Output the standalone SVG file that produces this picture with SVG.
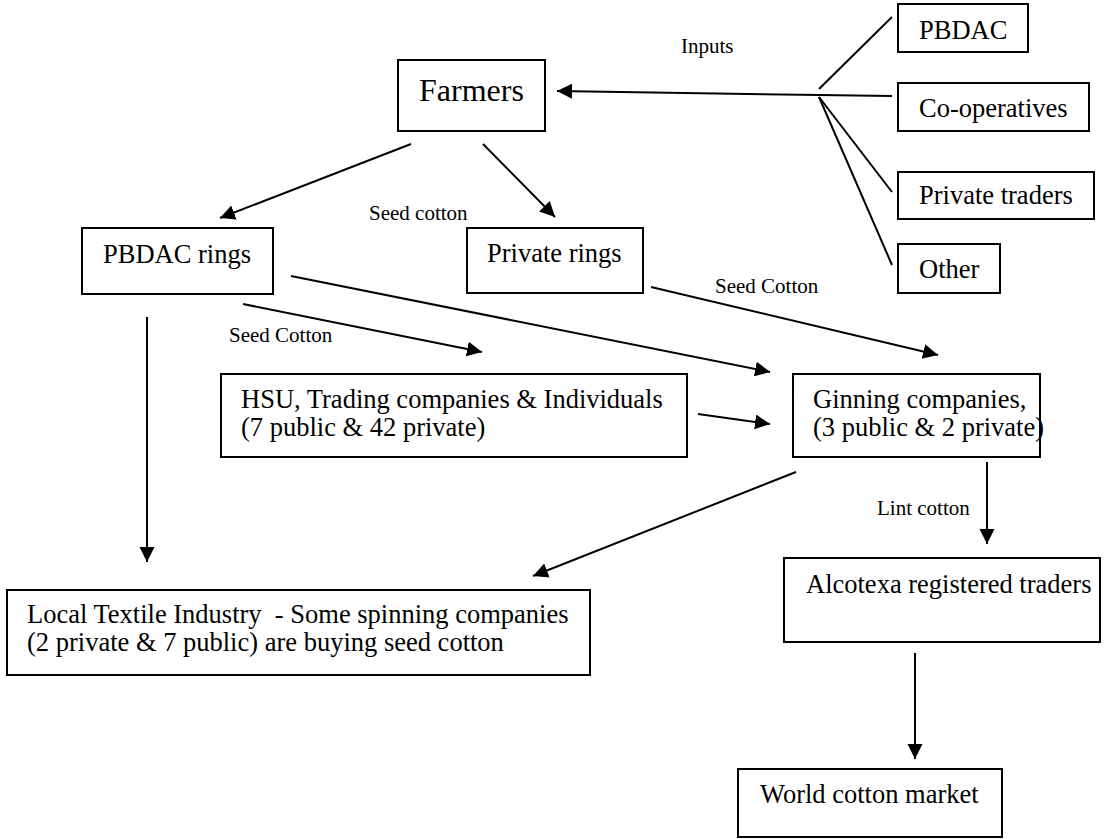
<svg xmlns="http://www.w3.org/2000/svg" width="1112" height="839" viewBox="0 0 1112 839">
<style>
.box{fill:#fff;stroke:#000;stroke-width:2}
.t{font-family:"Liberation Serif","Times New Roman",serif;font-size:26.5px;fill:#000;white-space:pre}
.big{font-size:32px}
.lbl{font-family:"Liberation Serif","Times New Roman",serif;font-size:21px;fill:#000}
.c{stroke:#000;stroke-width:2;fill:none}
</style>
<defs>
<marker id="ah" markerUnits="userSpaceOnUse" markerWidth="16" markerHeight="16" refX="15" refY="7.5" orient="auto">
<path d="M0,0 L15,7.5 L0,15 z" fill="#000"/>
</marker>
</defs>
<rect width="1112" height="839" fill="#fff"/>
<g id="connectors">
<line class="c" x1="819" y1="95" x2="557" y2="91" marker-end="url(#ah)"/>
<line class="c" x1="819" y1="89" x2="892" y2="17"/>
<line class="c" x1="819" y1="95" x2="892" y2="96"/>
<line class="c" x1="819" y1="97" x2="892" y2="192"/>
<line class="c" x1="819" y1="97" x2="892" y2="265"/>
<line class="c" x1="411" y1="144" x2="220" y2="218" marker-end="url(#ah)"/>
<line class="c" x1="483" y1="144" x2="555" y2="217" marker-end="url(#ah)"/>
<line class="c" x1="291" y1="276" x2="770" y2="372" marker-end="url(#ah)"/>
<line class="c" x1="243" y1="304" x2="482" y2="352" marker-end="url(#ah)"/>
<line class="c" x1="651" y1="287" x2="938" y2="355" marker-end="url(#ah)"/>
<line class="c" x1="698" y1="414" x2="770" y2="424" marker-end="url(#ah)"/>
<line class="c" x1="147" y1="317" x2="147" y2="562" marker-end="url(#ah)"/>
<line class="c" x1="796" y1="472" x2="533" y2="576" marker-end="url(#ah)"/>
<line class="c" x1="987" y1="462" x2="987" y2="544" marker-end="url(#ah)"/>
<line class="c" x1="915" y1="653" x2="915" y2="759" marker-end="url(#ah)"/>
<text class="lbl" x="681" y="53">Inputs</text>
<text class="lbl" x="369" y="220">Seed cotton</text>
<text class="lbl" x="229" y="342">Seed Cotton</text>
<text class="lbl" x="715" y="293">Seed Cotton</text>
<text class="lbl" x="877" y="515">Lint cotton</text>
</g>
<g id="farmers"><rect class="box" x="398" y="60" width="147" height="71"/><text class="t big" x="419" y="101">Farmers</text></g>
<g id="pbdac"><rect class="box" x="898" y="4" width="130" height="48"/><text class="t" x="919" y="39">PBDAC</text></g>
<g id="coops"><rect class="box" x="898" y="83" width="191" height="48"/><text class="t" x="919" y="117">Co-operatives</text></g>
<g id="private-traders"><rect class="box" x="898" y="172" width="196" height="47"/><text class="t" x="919" y="204">Private traders</text></g>
<g id="other"><rect class="box" x="898" y="244" width="102" height="49"/><text class="t" x="919" y="278">Other</text></g>
<g id="pbdac-rings"><rect class="box" x="82" y="228" width="191" height="66"/><text class="t" x="103" y="263">PBDAC rings</text></g>
<g id="private-rings"><rect class="box" x="467" y="228" width="176" height="65"/><text class="t" x="487" y="262">Private rings</text></g>
<g id="hsu"><rect class="box" x="221" y="374" width="466" height="83"/><text class="t" x="241" y="408">HSU, Trading companies &amp; Individuals</text><text class="t" x="241" y="436">(7 public &amp; 42 private)</text></g>
<g id="ginning"><rect class="box" x="793" y="374" width="247" height="83"/><text class="t" x="813" y="408">Ginning companies,</text><text class="t" x="813" y="436">(3 public &amp; 2 private)</text></g>
<g id="local-textile"><rect class="box" x="7" y="590" width="583" height="85"/><text class="t" x="27" y="623">Local Textile Industry  - Some spinning companies</text><text class="t" x="27" y="651">(2 private &amp; 7 public) are buying seed cotton</text></g>
<g id="alcotexa"><rect class="box" x="784" y="558" width="316" height="84"/><text class="t" x="806" y="593">Alcotexa registered traders</text></g>
<g id="world"><rect class="box" x="738" y="769" width="264" height="68"/><text class="t" x="760" y="803">World cotton market</text></g>
</svg>
